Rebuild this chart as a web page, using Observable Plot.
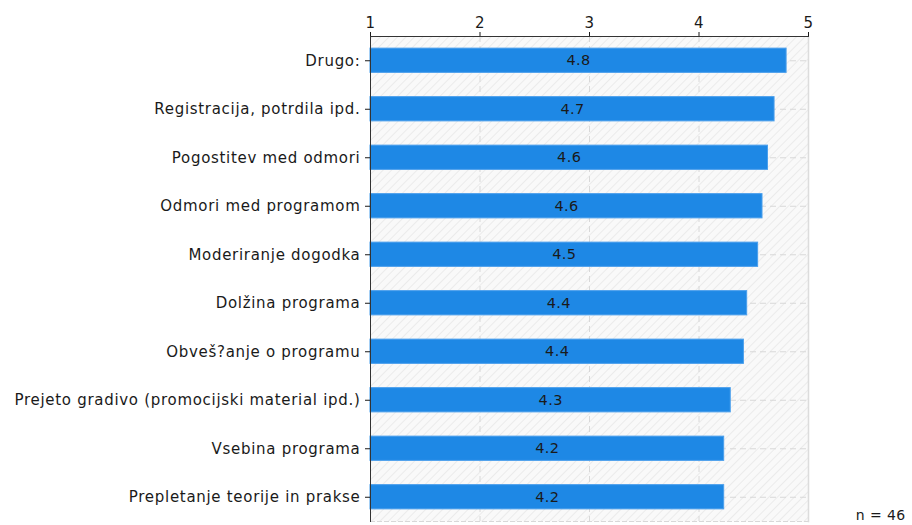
<!DOCTYPE html>
<html>
<head>
<meta charset="utf-8">
<script src="https://cdn.jsdelivr.net/npm/d3@7"></script>
<script src="https://cdn.jsdelivr.net/npm/@observablehq/plot@0.6"></script>
<style>
  html, body { margin: 0; padding: 0; background: #fff; }
  #chart svg { display: block; }
  #chart g[aria-label="y-axis tick label"] text { letter-spacing: 0.7px; }
  #chart g[aria-label="x-axis tick label"] text { letter-spacing: 0.3px; }
  #chart g.value-labels text, #chart g.note text { letter-spacing: 0.4px; }
</style>
</head>
<body>
<div id="chart"></div>
<script>
const categories = [
  "Drugo:",
  "Registracija, potrdila ipd.",
  "Pogostitev med odmori",
  "Odmori med programom",
  "Moderiranje dogodka",
  "Dolžina programa",
  "Obveš?anje o programu",
  "Prejeto gradivo (promocijski material ipd.)",
  "Vsebina programa",
  "Prepletanje teorije in prakse"
];
const values = [4.80, 4.69, 4.63, 4.58, 4.54, 4.44, 4.41, 4.29, 4.23, 4.23];
const xTicks = [1, 2, 3, 4, 5];
const sampleNote = "n = 46";

const data = categories.map((c, i) => ({category: c, value: values[i]}));

const chart = Plot.plot({
  width: 912,
  height: 525,
  marginLeft: 370,
  marginRight: 104,
  marginTop: 36,
  marginBottom: 4,
  style: {fontFamily: "'DejaVu Sans', Verdana, sans-serif", fontSize: "14px", color: "#1a1a1a", background: "#fff"},
  x: {domain: [1, 5], label: null},
  y: {domain: categories, paddingInner: 0.5, paddingOuter: 0.25, round: false, label: null},
  marks: [
    Plot.frame({fill: "url(#hatch)", stroke: null}),
    Plot.gridX({ticks: [2, 3, 4], stroke: "#d8d8d8", strokeOpacity: 1, strokeDasharray: "6,4"}),
    Plot.gridY({stroke: "#d8d8d8", strokeOpacity: 1, strokeDasharray: "6,4"}),
    Plot.frame({anchor: "bottom", stroke: "#d8d8d8", strokeDasharray: "4,3"}),
    Plot.frame({anchor: "right", stroke: "#dcdcdc", strokeWidth: 1.5}),
    Plot.barX(data, {y: "category", x1: 1, x2: "value", fill: "#1e88e5", stroke: "#4a9fec", strokeWidth: 1}),
    Plot.text(data, {y: "category", x: d => (1 + d.value) / 2, text: d => d.value.toFixed(1), fill: "#1a1a1a", fontSize: 14.5, className: "value-labels"}),
    Plot.axisX({anchor: "top", ticks: xTicks, tickFormat: d3.format("d"), tickSize: 5, tickPadding: 4, fontSize: 15, label: null, color: "#1a1a1a"}),
    Plot.axisY({anchor: "left", tickSize: 5, tickPadding: 5, fontSize: 15, label: null, color: "#1a1a1a"}),
    Plot.frame({anchor: "top", stroke: "#333"}),
    Plot.frame({anchor: "left", stroke: "#333"}),
    Plot.text([sampleNote], {frameAnchor: "bottom-right", dx: 97, dy: -2, textAnchor: "end", fill: "#1a1a1a", fontSize: 14, className: "note"})
  ]
});

// hatched background pattern
const ns = "http://www.w3.org/2000/svg";
const defs = document.createElementNS(ns, "defs");
defs.innerHTML = `<pattern id="hatch" patternUnits="userSpaceOnUse" width="6" height="6" patternTransform="rotate(45)">
  <rect width="6" height="6" fill="#f9f9f9"></rect>
  <line x1="0" y1="0" x2="0" y2="6" stroke="#ebebeb" stroke-width="2"></line>
</pattern>`;
chart.insertBefore(defs, chart.firstChild);

document.getElementById("chart").appendChild(chart);
</script>
</body>
</html>
